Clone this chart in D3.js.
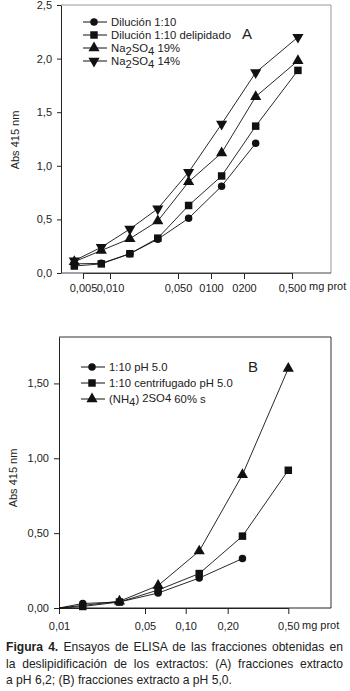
<!DOCTYPE html>
<html>
<head>
<meta charset="utf-8">
<script src="https://cdn.jsdelivr.net/npm/d3@7"></script>
<style>
  body { margin: 0; background: #fff; }
  svg { display: block; font-family: Arial, "Liberation Sans", sans-serif; }
  .axis text { font-size: 11px; fill: #222; font-family: Arial, "Liberation Sans", sans-serif; }
  .axis path, .axis line { stroke: #222; }
</style>
</head>
<body>
<script>
// ---- data, panel A (pH 6,2) ----
var doseA = [0.004, 0.008, 0.016, 0.031, 0.0625, 0.125, 0.25, 0.56];
var dilucionA = [0.085, 0.09, 0.18, 0.315, 0.51, 0.81, 1.21, null];
var delipidadoA = [0.065, 0.085, 0.18, 0.325, 0.63, 0.905, 1.37, 1.89];
var sulfato19A = [0.105, 0.21, 0.32, 0.485, 0.85, 1.12, 1.645, 1.98];
var sulfato14A = [0.115, 0.24, 0.41, 0.60, 0.94, 1.39, 1.87, 2.20];
var xTicksA = [0.005, 0.01, 0.05, 0.1, 0.2, 0.5];
var xLabelsA = ["0,005", "0,010", "0,050", "0100", "0200", "0,500"];
var yTicksA = [0, 0.5, 1, 1.5, 2, 2.5];

// ---- data, panel B (pH 5,0) ----
var doseB = [0.01, 0.0156, 0.031, 0.0625, 0.125, 0.25, 0.5];
var ph5B = [0, 0.03, 0.04, 0.10, 0.20, 0.33, null];
var centrifB = [0, 0.01, 0.04, 0.12, 0.23, 0.48, 0.92];
var amonioB = [0, null, 0.045, 0.15, 0.38, 0.89, 1.60];
var xTicksB = [0.01, 0.05, 0.1, 0.2, 0.5];
var xLabelsB = ["0,01", "0,05", "0,10", "0,20", "0,50"];
var yTicksB = [0, 0.5, 1, 1.5];

var W = 350, H = 691;

var svg = d3.select('body')
            .append('svg')
            .attr('width', W)
            .attr('height', H);

// symbols
var sym = {
  circle: d3.symbol().type(d3.symbolCircle).size(44),
  square: d3.symbol().type(d3.symbolSquare).size(56),
  triangle: d3.symbol().type(d3.symbolTriangle).size(54)
};

function drawSeries(g, x, y, dose, vals, shape, flip) {
  var pts = dose.map(function(d, i){ return {x: d, y: vals[i]}; })
                .filter(function(d){ return d.y !== null; });
  var line = d3.line()
      .x(function(d){ return x(d.x); })
      .y(function(d){ return y(d.y); });
  g.append('path')
    .attr('d', line(pts))
    .attr('fill', 'none')
    .attr('stroke', '#111')
    .attr('stroke-width', 0.9);
  g.selectAll(null)
    .data(pts.filter(function(d){ return d.y > 0; }))
    .enter()
    .append('path')
    .attr('d', sym[shape]())
    .attr('fill', '#111')
    .attr('transform', function(d){
      return 'translate(' + x(d.x) + ',' + y(d.y) + ')' + (flip ? ' rotate(180)' : '');
    });
}

function legendRow(g, x, y, shape, flip, parts) {
  g.append('line')
    .attr('x1', x).attr('x2', x + 24)
    .attr('y1', y).attr('y2', y)
    .attr('stroke', '#111').attr('stroke-width', 1);
  g.append('path')
    .attr('d', sym[shape]())
    .attr('fill', '#111')
    .attr('transform', 'translate(' + (x + 11) + ',' + y + ')' + (flip ? ' rotate(180)' : ''));
  var t = g.append('text')
    .attr('x', x + 28)
    .attr('y', y + 4)
    .style('font-size', '11.3px')
    .style('fill', '#222');
  parts.forEach(function(p){
    t.append('tspan').attr('dy', p[1]).text(p[0]);
  });
}

var commaFmt = function(f){ return function(d){ return d3.format(f)(d).replace('.', ','); }; };

// ================= Panel A =================
var gA = svg.append('g');
var xA = d3.scaleLog().domain(xTicksA).range([83, 110, 178, 211, 244, 292]);
var yA = d3.scaleLinear().domain([0, 2.5]).range([273, 5]);

// frame (top & right in grey)
gA.append('path')
  .attr('d', 'M61,5H331V273')
  .attr('fill', 'none').attr('stroke', '#999').attr('stroke-width', 1);

gA.append('g')
  .attr('class', 'axis')
  .attr('transform', 'translate(61,0)')
  .call(d3.axisLeft(yA).tickValues(yTicksA).tickSize(4).tickSizeOuter(0).tickPadding(5).tickFormat(commaFmt('.1f')));

gA.append('g')
  .attr('class', 'axis')
  .attr('transform', 'translate(0,273)')
  .call(d3.axisBottom(xA).tickValues(xTicksA).tickSize(6).tickSizeOuter(0).tickPadding(5)
    .tickFormat(function(d, i){ return xLabelsA[i]; }));
gA.append('line').attr('x1', 61).attr('x2', 331).attr('y1', 273).attr('y2', 273).attr('stroke', '#444');

gA.append('text').attr('x', 309).attr('y', 290).style('font-size', '11px').style('fill', '#222').text('mg prot');

gA.append('text')
  .attr('transform', 'translate(19,140) rotate(-90)')
  .attr('text-anchor', 'middle')
  .style('font-size', '11px').style('fill', '#222')
  .text('Abs 415 nm');

drawSeries(gA, xA, yA, doseA, dilucionA, 'circle', false);
drawSeries(gA, xA, yA, doseA, delipidadoA, 'square', false);
drawSeries(gA, xA, yA, doseA, sulfato19A, 'triangle', false);
drawSeries(gA, xA, yA, doseA, sulfato14A, 'triangle', true);

legendRow(gA, 83, 22, 'circle', false, [['Dilución 1:10', 0]]);
legendRow(gA, 83, 35, 'square', false, [['Dilución 1:10 delipidado', 0]]);
legendRow(gA, 83, 48, 'triangle', false, [['Na', 0], ['2', 3], ['SO', -3], ['4', 3], [' 19%', -3]]);
legendRow(gA, 83, 61, 'triangle', true, [['Na', 0], ['2', 3], ['SO', -3], ['4', 3], [' 14%', -3]]);

gA.append('text').attr('x', 242).attr('y', 39).style('font-size', '15px').style('fill', '#222').text('A');

// ================= Panel B =================
var gB = svg.append('g');
var xB = d3.scaleLog().domain(xTicksB).range([59, 145, 185.7, 227.7, 288.3]);
var yB = d3.scaleLinear().domain([0, 1.81]).range([608, 337]);

gB.append('path')
  .attr('d', 'M59,337H331V608')
  .attr('fill', 'none').attr('stroke', '#333').attr('stroke-width', 1);

gB.append('g')
  .attr('class', 'axis')
  .attr('transform', 'translate(59,0)')
  .call(d3.axisLeft(yB).tickValues(yTicksB).tickSize(5).tickSizeOuter(0).tickPadding(5).tickFormat(commaFmt('.2f')));

gB.append('g')
  .attr('class', 'axis')
  .attr('transform', 'translate(0,608)')
  .call(d3.axisBottom(xB).tickValues(xTicksB).tickSize(6).tickSizeOuter(0).tickPadding(8)
    .tickFormat(function(d, i){ return xLabelsB[i]; }));
gB.append('line').attr('x1', 59).attr('x2', 331).attr('y1', 608).attr('y2', 608).attr('stroke', '#222');

gB.append('text').attr('x', 302).attr('y', 629).style('font-size', '11px').style('fill', '#222').text('mg prot');

gB.append('text')
  .attr('transform', 'translate(17,478) rotate(-90)')
  .attr('text-anchor', 'middle')
  .style('font-size', '11px').style('fill', '#222')
  .text('Abs 415 nm');

drawSeries(gB, xB, yB, doseB, ph5B, 'circle', false);
drawSeries(gB, xB, yB, doseB, centrifB, 'square', false);
drawSeries(gB, xB, yB, doseB, amonioB, 'triangle', false);

legendRow(gB, 81, 367, 'circle', false, [['1:10 pH 5.0', 0]]);
legendRow(gB, 81, 383, 'square', false, [['1:10 centrifugado pH 5.0', 0]]);
legendRow(gB, 81, 399, 'triangle', false, [['(NH', 0], ['4', 3], [') ', -3], ['2SO', -1], ['4', 0], [' 60% s', 1]]);

gB.append('text').attr('x', 248).attr('y', 372).style('font-size', '15px').style('fill', '#222').text('B');

// ================= caption =================
var cap = svg.append('g').style('font-size', '12.1px').style('fill', '#222');
var c1 = cap.append('text').attr('x', 6).attr('y', 651);
c1.append('tspan').style('font-weight', 'bold').text('Figura 4.');
c1.append('tspan').text(' Ensayos de ELISA de las fracciones obtenidas en');
var c2 = cap.append('text').attr('x', 6).attr('y', 668).text('la deslipidificación de los extractos: (A) fracciones extracto');
cap.append('text').attr('x', 6).attr('y', 684).text('a pH 6,2; (B) fracciones extracto a pH 5,0.');

// justify the first two caption lines to the right margin
[c1, c2].forEach(function(t){
  var w = t.node().getComputedTextLength();
  var gaps = t.text().split(' ').length - 1;
  t.style('word-spacing', ((337 - w) / gaps) + 'px');
});
</script>
</body>
</html>
